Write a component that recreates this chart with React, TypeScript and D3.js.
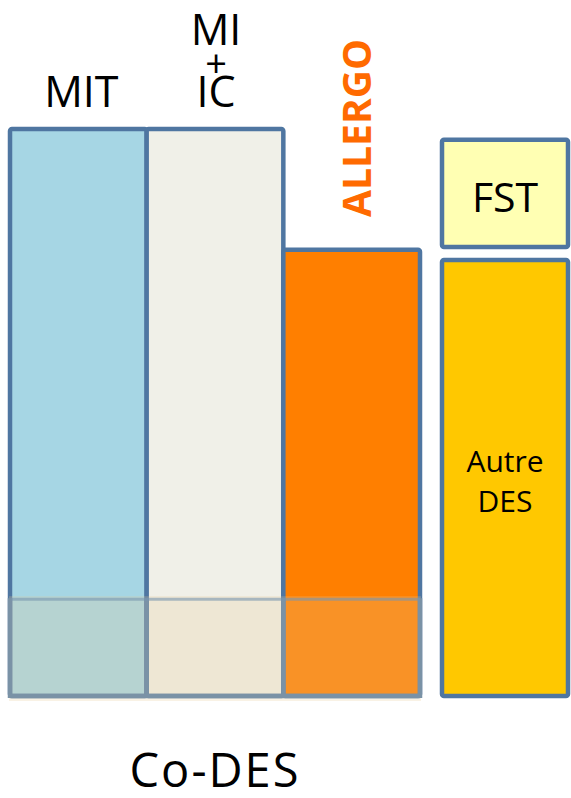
import React from "react";
import * as d3 from "d3";

const categories = ["MIT", "MI+IC", "ALLERGO"];
const barValues = [100, 100, 78.7];
const barColors = ["#a6d6e4", "#f0f0e8", "#ff7f00"];
const coDesValue = 17.6;
const sideSegments = [
  { name: "Autre DES", start: 0, end: 76.9, color: "#ffc800" },
  { name: "FST", start: 79.2, end: 98.1, color: "#ffffb3" },
];
const bottomLabel = "Co-DES";

const W = 571;
const H = 798;
const BORDER = "#4f76a1";
const MUTED = "#7a92a6";
const FONT = "'Open Sans', 'Noto Sans', sans-serif";

export default function App() {
  const y = d3.scaleLinear().domain([0, 100]).range([696, 129]);
  const x = d3.scaleBand().domain(categories).range([10, 420]).paddingInner(0);
  const sx = 442;
  const sw = 126;
  const bandTop = y(coDesValue);
  const edges = [...categories.map((c) => x(c)!), x.range()[1]];

  return (
    <svg width={W} height={H} style={{ position: "absolute", left: 0, top: 0, background: "#fff" }}>
      {categories.map((c, i) => (
        <rect
          key={c}
          x={x(c)!}
          y={y(barValues[i])}
          width={x.bandwidth()}
          height={y(0) - y(barValues[i])}
          fill={barColors[i]}
          stroke={BORDER}
          strokeWidth={4.5}
          rx={2}
        />
      ))}
      {/* Co-DES translucent band */}
      <rect
        x={x.range()[0] - 1}
        y={bandTop}
        width={x.range()[1] - x.range()[0] + 2}
        height={y(0) - bandTop + 5}
        fill="rgba(230,205,150,0.25)"
      />
      {edges.map((e, i) => (
        <line key={i} x1={e} x2={e} y1={bandTop + 2} y2={y(0) + 2} stroke={MUTED} strokeWidth={4.5} />
      ))}
      <line x1={x.range()[0]} x2={x.range()[1]} y1={y(0)} y2={y(0)} stroke={MUTED} strokeWidth={4.5} />
      <line
        x1={x.range()[0] + 1}
        x2={x.range()[1]}
        y1={bandTop + 3}
        y2={bandTop + 3}
        stroke="rgba(120,150,175,0.6)"
        strokeWidth={3}
      />
      {sideSegments.map((s) => (
        <rect
          key={s.name}
          x={sx}
          y={y(s.end)}
          width={sw}
          height={y(s.start) - y(s.end)}
          fill={s.color}
          stroke={BORDER}
          strokeWidth={4.5}
          rx={2}
        />
      ))}
      {/* labels */}
      <g fontFamily={FONT} fill="#000" textAnchor="middle">
        <text x={x("MIT")! + x.bandwidth() / 2 + 3} y={107} fontSize={43}>MIT</text>
        <text x={x("MI+IC")! + x.bandwidth() / 2 + 1} y={45} fontSize={43}>MI</text>
        <text x={x("MI+IC")! + x.bandwidth() / 2 + 1} y={77} fontSize={38}>+</text>
        <text x={x("MI+IC")! + x.bandwidth() / 2 + 1} y={107} fontSize={43}>IC</text>
        <text
          transform={`translate(${x("ALLERGO")! + x.bandwidth() / 2 + 19},128) rotate(-90)`}
          fontSize={39}
          fontWeight={700}
          fill="#ff6a00"
        >
          ALLERGO
        </text>
        <text x={sx + sw / 2} y={212} fontSize={41}>FST</text>
        <text x={sx + sw / 2} y={472} fontSize={30}>Autre</text>
        <text x={sx + sw / 2} y={512} fontSize={30}>DES</text>
        <text x={215} y={787} fontSize={47} letterSpacing={2}>{bottomLabel}</text>
      </g>
    </svg>
  );
}
